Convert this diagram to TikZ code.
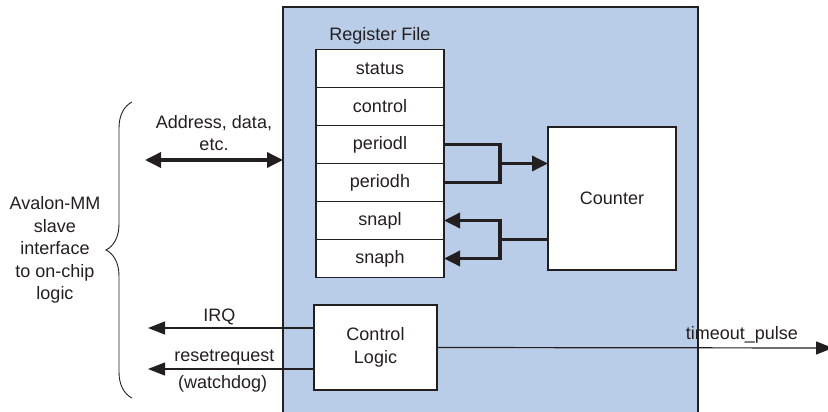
\documentclass[tikz,border=0pt]{standalone}
\usepackage{fontspec}
\setmainfont{Liberation Sans}
\usetikzlibrary{positioning,calc,arrows.meta,decorations.pathreplacing}
\definecolor{coreblue}{RGB}{185,205,232}
\definecolor{ink}{RGB}{35,31,32}
\begin{document}
\begin{tikzpicture}
[x=1pt, y=-1pt,
 nodes={font=\fontsize{18}{22.5}\selectfont, text=ink, inner sep=0pt, outer sep=0pt},
 reg/.style={draw=ink, fill=white, line width=1.2pt, minimum width=128pt, minimum height=38pt},
 blk/.style={draw=ink, fill=white, line width=1.2pt, align=center},
 busline/.style={line width=3.5pt, draw=ink},
 bus/.style={busline, -{Triangle[length=16pt,width=15pt]}},
 sig/.style={line width=1.2pt, draw=ink, -{Triangle[length=17pt,width=13pt]}}]
\useasboundingbox (0,0) rectangle (828,412);

\node (core) at (283,7) [anchor=north west, draw=ink, fill=coreblue, line width=2.2pt,
  minimum width=415pt, minimum height=425pt] {};

\node (status) at (380,68.5) [reg] {status};
\node (control) [reg, below=0pt of status] {control};
\node (periodl) [reg, below=0pt of control] {periodl};
\node (periodh) [reg, below=0pt of periodl] {periodh};
\node (snapl) [reg, below=0pt of periodh] {snapl};
\node (snaph) [reg, below=0pt of snapl] {snaph};
\node (regfile) [above=5pt of status] {Register File};

\node (counter) at (612,198.5) [blk, minimum width=128pt, minimum height=143pt] {Counter};
\node (ctrl) at (375.5,347.5) [blk, minimum width=123pt, minimum height=85pt] {Control\\Logic};

\coordinate (pj) at ($(periodl.south east)+(56,0)$);
\draw[busline] (periodl.east) -- (pj |- periodl.east) -- (pj |- periodh.east) -- (periodh.east);
\draw[bus] (pj) -- (pj -| counter.west);

\coordinate (sj) at ($(snapl.south east)+(56,0)$);
\draw[busline] (counter.west |- sj) -- (sj);
\draw[bus] (sj) |- (snapl.east);
\draw[bus] (sj) |- (snaph.east);

\coordinate (addr) at (145,160);
\draw[busline, {Triangle[length=16pt,width=15pt]}-{Triangle[length=16pt,width=15pt]}]
  (addr) -- (addr -| core.west) node[midway, above=9pt, align=center] {Address, data,\\etc.};

\coordinate (irq) at (148,328);
\coordinate (rst) at (148,369);
\coordinate (tp) at (833,348);
\draw[sig] (ctrl.west |- irq) -- (irq) node[pos=.57, above=3pt] {IRQ};
\draw[sig] (ctrl.west |- rst) -- (rst) node[pos=.54, above=4pt] {resetrequest}
  node[pos=.55, below=6pt] {(watchdog)};
\draw[sig] (ctrl.east) -- (tp) node[pos=.77, above=5pt] {timeout\_pulse};

\coordinate (bb) at (132,398);
\coordinate (bt) at (132,102);
\draw[decorate, decoration={brace, amplitude=26pt}, line width=.9pt, ink] (bb) -- (bt);
\node (avalon) at (55,250) [align=center] {Avalon-MM\\slave\\interface\\to on-chip\\logic};
\end{tikzpicture}
\end{document}
